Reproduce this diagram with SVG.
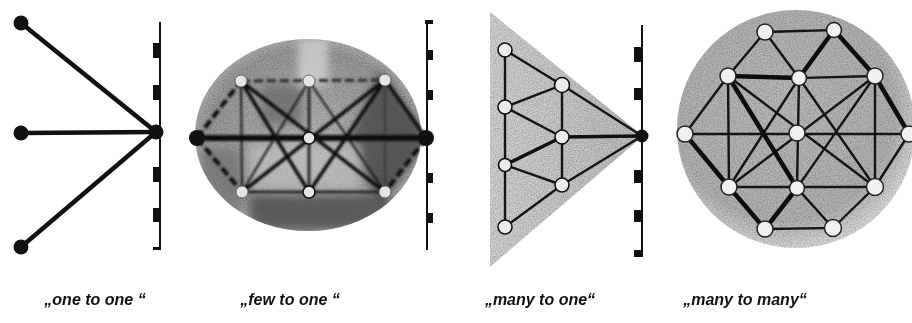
<svg xmlns="http://www.w3.org/2000/svg" width="912" height="323" viewBox="0 0 912 323">
<defs>
<style>
.lbl{font-family:"Liberation Sans",Arial,sans-serif;font-weight:bold;font-style:italic;font-size:16px;fill:#111;text-anchor:middle}
.e1{stroke:#111;stroke-width:4.5;stroke-linecap:round;fill:none}
.bd{fill:#111}
.rul{stroke:#111;stroke-width:2;fill:none}
.blk{fill:#111}
.e2{stroke:#1a1a1a;stroke-width:2;fill:none;stroke-linecap:round}
.e2t{stroke:#111;stroke-width:3.5;fill:none;stroke-linecap:round}
.e2d{stroke:#111;stroke-width:4;fill:none;stroke-dasharray:9 4}
.n2{fill:#e4e4e4;stroke:#666;stroke-width:1}
.e3{stroke:#151515;stroke-width:2.4;fill:none;stroke-linecap:round}
.e3t{stroke:#111;stroke-width:3.6;fill:none;stroke-linecap:round}
.n3{fill:#ececec;stroke:#111;stroke-width:1.6}
.e4{stroke:#151515;stroke-width:2.4;fill:none;stroke-linecap:round}
.e4t{stroke:#0d0d0d;stroke-width:4.5;fill:none;stroke-linecap:round}
.n4{fill:#f0f0f0;stroke:#222;stroke-width:1.5}
</style>
<filter id="grain" x="0" y="0" width="100%" height="100%">
<feTurbulence type="fractalNoise" baseFrequency="0.85" numOctaves="2" seed="3" result="n"/>
<feColorMatrix in="n" type="matrix" values="0 0 0 0 0  0 0 0 0 0  0 0 0 0 0  0 0 0 -1.6 1.1" result="d"/>
<feComposite in="d" in2="SourceAlpha" operator="in" result="dm"/>
<feComponentTransfer in="dm" result="dm2"><feFuncA type="linear" slope="0.55"/></feComponentTransfer>
<feMerge><feMergeNode in="SourceGraphic"/><feMergeNode in="dm2"/></feMerge>
</filter>
<filter id="blur4"><feGaussianBlur stdDeviation="4"/></filter>
<filter id="blur1"><feGaussianBlur stdDeviation="0.8"/></filter>
<radialGradient id="g2" cx="0.5" cy="0.5" r="0.55">
<stop offset="0" stop-color="#b8b8b8"/><stop offset="0.8" stop-color="#9a9a9a"/><stop offset="1" stop-color="#bdbdbd"/>
</radialGradient>
<linearGradient id="g3" x1="0" y1="0" x2="1" y2="0">
<stop offset="0" stop-color="#d4d4d4"/><stop offset="0.6" stop-color="#c8c8c8"/><stop offset="1" stop-color="#bdbdbd"/>
</linearGradient>
<radialGradient id="g4" cx="0.45" cy="0.42" r="0.58">
<stop offset="0" stop-color="#bcbcbc"/><stop offset="0.8" stop-color="#b4b4b4"/><stop offset="1" stop-color="#dadada"/>
</radialGradient>
<clipPath id="ell"><ellipse cx="308" cy="135" rx="113" ry="96"/></clipPath>
</defs>
<rect width="912" height="323" fill="#ffffff"/>

<!-- Panel 1: one to one -->
<g id="p1-ruler">
<line class="rul" x1="160" y1="22" x2="160" y2="250"/>
<rect class="blk" x="153" y="43" width="7" height="15"/>
<rect class="blk" x="153" y="85" width="7" height="15"/>
<rect class="blk" x="153" y="167" width="7" height="15"/>
<rect class="blk" x="153" y="208" width="7" height="14"/>
<rect class="blk" x="153" y="247" width="7" height="3"/>
</g>
<g id="p1-connectors">
<line class="e1" x1="21" y1="23" x2="156" y2="132"/>
<line class="e1" x1="21" y1="133" x2="156" y2="132"/>
<line class="e1" x1="21" y1="247" x2="156" y2="132"/>
</g>
<g id="p1-n1"><circle class="bd" cx="21" cy="23" r="7.5"/></g>
<g id="p1-n2"><circle class="bd" cx="21" cy="133" r="7.5"/></g>
<g id="p1-n3"><circle class="bd" cx="21" cy="247" r="7.5"/></g>
<g id="p1-hub"><circle class="bd" cx="156" cy="132" r="7.5"/></g>

<!-- Panel 2: few to one -->
<g id="p2-background">
<ellipse cx="308" cy="135" rx="113" ry="96" fill="url(#g2)" filter="url(#grain)"/>
<g clip-path="url(#ell)" filter="url(#blur4)">
<polygon points="380,70 430,138 380,205 350,138" fill="#3c3c3c" opacity="0.7"/>
<rect x="250" y="195" width="140" height="35" fill="#4a4a4a" opacity="0.75"/>
<rect x="200" y="150" width="40" height="70" fill="#6a6a6a" opacity="0.6"/>
<rect x="262" y="85" width="40" height="40" fill="#555" opacity="0.55"/>
<rect x="298" y="40" width="30" height="45" fill="#eaeaea" opacity="0.6"/>
<rect x="250" y="145" width="110" height="45" fill="#cfcfcf" opacity="0.5"/>
</g>
</g>
<g id="p2-ruler">
<line class="rul" x1="427" y1="20" x2="427" y2="250"/>
<rect class="blk" x="425" y="20" width="8" height="4"/>
<rect class="blk" x="426" y="50" width="7" height="10"/>
<rect class="blk" x="426" y="90" width="7" height="10"/>
<rect class="blk" x="426" y="173" width="7" height="10"/>
<rect class="blk" x="426" y="213" width="7" height="10"/>
</g>
<g id="p2-connectors" filter="url(#blur1)">
<line class="e2d" x1="197" y1="138" x2="241" y2="81"/>
<line class="e2d" x1="197" y1="138" x2="242" y2="192"/>
<line class="e2t" x1="426" y1="138" x2="385" y2="80"/>
<line class="e2d" x1="426" y1="138" x2="385" y2="192"/>
<line class="e2d" x1="241" y1="81" x2="385" y2="80" style="stroke:#2a2a2a;stroke-width:3"/>
<line class="e2" x1="242" y1="192" x2="385" y2="192" style="stroke:#2a2a2a;stroke-width:3"/>
<line class="e2" x1="241" y1="81" x2="242" y2="192"/>
<line class="e2" x1="309" y1="81" x2="309" y2="192" style="stroke-width:2.6"/>
<line class="e2" x1="385" y1="80" x2="385" y2="192" style="stroke:#333;stroke-width:1.4"/>
<line class="e2" x1="309" y1="81" x2="242" y2="192"/>
<line class="e2" x1="309" y1="81" x2="385" y2="192"/>
<line class="e2t" x1="241" y1="81" x2="385" y2="192"/>
<line class="e2t" x1="242" y1="192" x2="385" y2="80"/>
<line class="e2t" x1="241" y1="81" x2="309" y2="192"/>
<line class="e2t" x1="385" y1="80" x2="309" y2="192"/>
<line class="e2t" x1="197" y1="138" x2="426" y2="138" style="stroke-width:6"/>
</g>
<g id="p2-L"><circle class="bd" cx="197" cy="138" r="8"/></g>
<g id="p2-R"><circle class="bd" cx="426" cy="138" r="8"/></g>
<g id="p2-T1"><circle class="n2" cx="241" cy="81" r="6"/></g>
<g id="p2-T2"><circle class="n2" cx="309" cy="81" r="6"/></g>
<g id="p2-T3"><circle class="n2" cx="385" cy="80" r="6"/></g>
<g id="p2-C"><circle class="n2" cx="309" cy="138" r="6" style="stroke:#111;stroke-width:1.6"/></g>
<g id="p2-B1"><circle class="n2" cx="242" cy="192" r="6"/></g>
<g id="p2-B2"><circle class="n2" cx="309" cy="192" r="6" style="stroke:#111;stroke-width:1.6"/></g>
<g id="p2-B3"><circle class="n2" cx="385" cy="192" r="6"/></g>

<!-- Panel 3: many to one -->
<g id="p3-background">
<polygon points="490,12 643,136 490,267" fill="url(#g3)" filter="url(#grain)"/>
</g>
<g id="p3-ruler">
<line class="rul" x1="642" y1="25" x2="642" y2="257"/>
<rect class="blk" x="634" y="47" width="7" height="15"/>
<rect class="blk" x="634" y="88" width="7" height="12"/>
<rect class="blk" x="634" y="170" width="7" height="13"/>
<rect class="blk" x="634" y="210" width="7" height="12"/>
<rect class="blk" x="634" y="250" width="7" height="7"/>
</g>
<g id="p3-connectors">
<line class="e3" x1="505" y1="50" x2="505" y2="227"/>
<line class="e3" x1="562" y1="85" x2="562" y2="185"/>
<line class="e3" x1="505" y1="50" x2="562" y2="85"/>
<line class="e3" x1="562" y1="85" x2="642" y2="136"/>
<line class="e3" x1="562" y1="85" x2="505" y2="107"/>
<line class="e3" x1="505" y1="107" x2="562" y2="137"/>
<line class="e3t" x1="562" y1="137" x2="505" y2="165"/>
<line class="e3t" x1="562" y1="137" x2="642" y2="136"/>
<line class="e3" x1="505" y1="165" x2="562" y2="185"/>
<line class="e3" x1="562" y1="185" x2="642" y2="136"/>
<line class="e3" x1="562" y1="185" x2="505" y2="227"/>
</g>
<g id="p3-n1"><circle class="n3" cx="505" cy="50" r="7"/></g>
<g id="p3-n2"><circle class="n3" cx="562" cy="85" r="7.5"/></g>
<g id="p3-n3"><circle class="n3" cx="505" cy="107" r="7"/></g>
<g id="p3-n4"><circle class="n3" cx="562" cy="137" r="7"/></g>
<g id="p3-n5"><circle class="n3" cx="505" cy="165" r="6.5"/></g>
<g id="p3-n6"><circle class="n3" cx="562" cy="185" r="7"/></g>
<g id="p3-n7"><circle class="n3" cx="505" cy="227" r="7"/></g>
<g id="p3-hub"><circle class="bd" cx="642" cy="136" r="6.5"/></g>

<!-- Panel 4: many to many -->
<g id="p4-background">
<circle cx="796" cy="129" r="119" fill="url(#g4)" filter="url(#grain)"/>
</g>
<g id="p4-connectors">
<line class="e4" x1="765" y1="32" x2="834" y2="30"/>
<line class="e4" x1="765" y1="32" x2="728" y2="76"/>
<line class="e4" x1="765" y1="32" x2="799" y2="78"/>
<line class="e4" x1="728" y1="76" x2="685" y2="134"/>
<line class="e4" x1="685" y1="134" x2="909" y2="134"/>
<line class="e4" x1="909" y1="134" x2="875" y2="187"/>
<line class="e4" x1="875" y1="187" x2="833" y2="228"/>
<line class="e4" x1="833" y1="228" x2="765" y2="229"/>
<line class="e4" x1="799" y1="78" x2="875" y2="76"/>
<line class="e4" x1="729" y1="187" x2="875" y2="187"/>
<line class="e4" x1="728" y1="76" x2="729" y2="187"/>
<line class="e4" x1="799" y1="78" x2="797" y2="188"/>
<line class="e4" x1="875" y1="76" x2="875" y2="187"/>
<line class="e4" x1="728" y1="76" x2="875" y2="187"/>
<line class="e4" x1="875" y1="76" x2="729" y2="187"/>
<line class="e4" x1="799" y1="78" x2="729" y2="187"/>
<line class="e4" x1="799" y1="78" x2="875" y2="187"/>
<line class="e4" x1="797" y1="188" x2="875" y2="76"/>
<line class="e4" x1="797" y1="188" x2="833" y2="228"/>
<line class="e4t" x1="728" y1="76" x2="799" y2="78"/>
<line class="e4t" x1="799" y1="78" x2="834" y2="30"/>
<line class="e4t" x1="834" y1="30" x2="875" y2="76"/>
<line class="e4t" x1="875" y1="76" x2="909" y2="134"/>
<line class="e4t" x1="685" y1="134" x2="729" y2="187"/>
<line class="e4t" x1="729" y1="187" x2="765" y2="229"/>
<line class="e4t" x1="765" y1="229" x2="797" y2="188"/>
<line class="e4t" x1="797" y1="188" x2="728" y2="76"/>
</g>
<g id="p4-A"><circle class="n4" cx="765" cy="32" r="8"/></g>
<g id="p4-B"><circle class="n4" cx="834" cy="30" r="7.5"/></g>
<g id="p4-C"><circle class="n4" cx="728" cy="76" r="8"/></g>
<g id="p4-D"><circle class="n4" cx="799" cy="78" r="7.5"/></g>
<g id="p4-E"><circle class="n4" cx="875" cy="76" r="8"/></g>
<g id="p4-L"><circle class="n4" cx="685" cy="134" r="8"/></g>
<g id="p4-M"><circle class="n4" cx="797" cy="133" r="8"/></g>
<g id="p4-R"><circle class="n4" cx="909" cy="134" r="8"/></g>
<g id="p4-F"><circle class="n4" cx="729" cy="187" r="8"/></g>
<g id="p4-G"><circle class="n4" cx="797" cy="188" r="7.5"/></g>
<g id="p4-H"><circle class="n4" cx="875" cy="187" r="8.5"/></g>
<g id="p4-I"><circle class="n4" cx="765" cy="229" r="8"/></g>
<g id="p4-J"><circle class="n4" cx="833" cy="228" r="8.5"/></g>

<!-- Labels -->
<g id="labels">
<text class="lbl" x="95" y="305">„one to one “</text>
<text class="lbl" x="290" y="305">„few to one “</text>
<text class="lbl" x="540" y="305">„many to one“</text>
<text class="lbl" x="745" y="305">„many to many“</text>
</g>
</svg>
